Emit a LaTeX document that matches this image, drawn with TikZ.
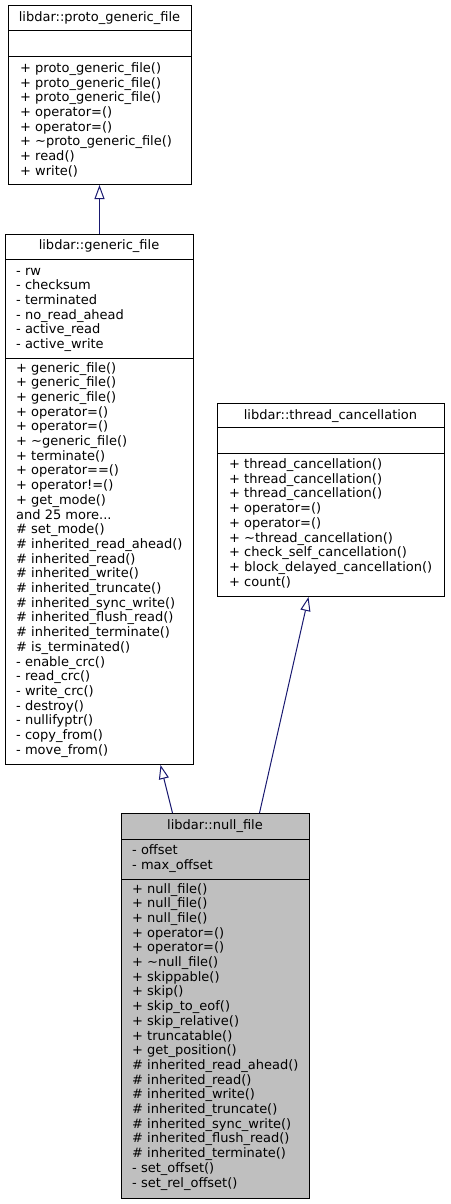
\documentclass[tikz,border=0pt]{standalone}
\usepackage{fontspec}
\setmainfont{DejaVu Sans}
\usetikzlibrary{arrows.meta}
\definecolor{edgeblue}{HTML}{191970}
\definecolor{nullgray}{HTML}{BFBFBF}
\newcommand\mlines[1]{\vtop{\baselineskip=14.7pt\lineskiplimit=-100pt\lineskip=0pt #1}}
\newcommand\ml[1]{\hbox{#1}}
\begin{document}
\begin{tikzpicture}[x=1pt,y=-1pt,
  classbox/.style={draw=black, line width=1pt, anchor=north west, inner sep=0pt, fill=white},
  txt/.style={anchor=base west, inner sep=0pt, font=\fontsize{13}{14.7}\selectfont},
  ttl/.style={anchor=base, inner sep=0pt, font=\fontsize{13}{14.7}\selectfont},
  sep/.style={draw=black, line width=1pt},
  inh/.style={draw=edgeblue, line width=1pt, -{Triangle[open, length=14pt, width=10pt]}}
]
\useasboundingbox (0,0) rectangle (450,1204);

% proto_generic_file
\node[classbox, minimum width=183pt, minimum height=179pt] (proto) at (8,5) {};
\draw[sep] (8,31) -- (191,31);
\draw[sep] (8,57) -- (191,57);
\node[ttl] (protot) at (99.5,22) {libdar::proto\_generic\_file};
\node[txt] (protom) at (20,72.5) {\mlines{%
\ml{+ proto\_generic\_file()}
\ml{+ proto\_generic\_file()}
\ml{+ proto\_generic\_file()}
\ml{+ operator=()}
\ml{+ operator=()}
\ml{+ \textasciitilde proto\_generic\_file()}
\ml{+ read()}
\ml{+ write()}}};

% generic_file
\node[classbox, minimum width=188pt, minimum height=530pt] (generic) at (5,234) {};
\draw[sep] (5,259) -- (193,259);
\draw[sep] (5,358) -- (193,358);
\node[ttl] (generict) at (99,249.5) {libdar::generic\_file};
\node[txt] (generica) at (16,275) {\mlines{%
\ml{- rw}
\ml{- checksum}
\ml{- terminated}
\ml{- no\_read\_ahead}
\ml{- active\_read}
\ml{- active\_write}}};
\node[txt] (genericm) at (16,372) {\mlines{%
\ml{+ generic\_file()}
\ml{+ generic\_file()}
\ml{+ generic\_file()}
\ml{+ operator=()}
\ml{+ operator=()}
\ml{+ \textasciitilde generic\_file()}
\ml{+ terminate()}
\ml{+ operator==()}
\ml{+ operator!=()}
\ml{+ get\_mode()}
\ml{and 25 more...}
\ml{\# set\_mode()}
\ml{\# inherited\_read\_ahead()}
\ml{\# inherited\_read()}
\ml{\# inherited\_write()}
\ml{\# inherited\_truncate()}
\ml{\# inherited\_sync\_write()}
\ml{\# inherited\_flush\_read()}
\ml{\# inherited\_terminate()}
\ml{\# is\_terminated()}
\ml{- enable\_crc()}
\ml{- read\_crc()}
\ml{- write\_crc()}
\ml{- destroy()}
\ml{- nullifyptr()}
\ml{- copy\_from()}
\ml{- move\_from()}}};

% thread_cancellation
\node[classbox, minimum width=227pt, minimum height=193pt] (thread) at (217,403) {};
\draw[sep] (217,427) -- (444,427);
\draw[sep] (217,453) -- (444,453);
\node[ttl] (threadt) at (330.5,419) {libdar::thread\_cancellation};
\node[txt] (threadm) at (229,468.5) {\mlines{%
\ml{+ thread\_cancellation()}
\ml{+ thread\_cancellation()}
\ml{+ thread\_cancellation()}
\ml{+ operator=()}
\ml{+ operator=()}
\ml{+ \textasciitilde thread\_cancellation()}
\ml{+ check\_self\_cancellation()}
\ml{+ block\_delayed\_cancellation()}
\ml{+ count()}}};

% null_file
\node[classbox, fill=nullgray, minimum width=188pt, minimum height=385pt] (null) at (121,813) {};
\draw[sep] (121,839) -- (309,839);
\draw[sep] (121,879) -- (309,879);
\node[ttl] (nullt) at (215,829.5) {libdar::null\_file};
\node[txt] (nulla) at (132,854.5) {\mlines{%
\ml{- offset}
\ml{- max\_offset}}};
\node[txt] (nullm) at (132,893) {\mlines{%
\ml{+ null\_file()}
\ml{+ null\_file()}
\ml{+ null\_file()}
\ml{+ operator=()}
\ml{+ operator=()}
\ml{+ \textasciitilde null\_file()}
\ml{+ skippable()}
\ml{+ skip()}
\ml{+ skip\_to\_eof()}
\ml{+ skip\_relative()}
\ml{+ truncatable()}
\ml{+ get\_position()}
\ml{\# inherited\_read\_ahead()}
\ml{\# inherited\_read()}
\ml{\# inherited\_write()}
\ml{\# inherited\_truncate()}
\ml{\# inherited\_sync\_write()}
\ml{\# inherited\_flush\_read()}
\ml{\# inherited\_terminate()}
\ml{- set\_offset()}
\ml{- set\_rel\_offset()}}};

% inheritance
\draw[inh] (generic.north) -- (generic.north |- proto.south);
\draw[inh] ([xshift=-43pt]null.north) -- ([xshift=61pt]generic.south);
\draw[inh] ([xshift=44pt]null.north) -- ([xshift=-22.5pt]thread.south);
\end{tikzpicture}
\end{document}
